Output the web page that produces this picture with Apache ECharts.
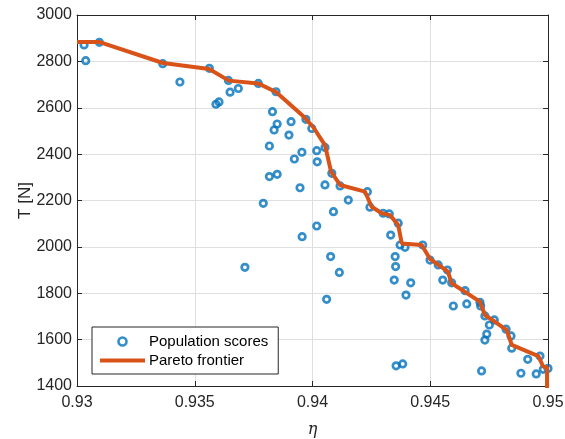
<!DOCTYPE html>
<html><head><meta charset="utf-8">
<script src="https://cdn.jsdelivr.net/npm/echarts@6/dist/echarts.min.js"></script>
<style>html,body{margin:0;padding:0;background:#fff}#c{width:565px;height:439px}</style>
</head><body><div id="c"></div>
<script>
var popX = [0.9303,0.93037,0.93095,0.93364,0.93437,0.93562,0.9359,0.93603,0.93643,0.9365,0.93685,0.9377,0.93845,0.9383,0.9385,0.93837,0.93909,0.939,0.93817,0.93972,0.93997,0.93923,0.93955,0.94018,0.9402,0.94053,0.93817,0.9385,0.93947,0.94082,0.94053,0.94117,0.93791,0.94089,0.94152,0.94018,0.93956,0.94077,0.93713,0.94114,0.9406,0.94233,0.94244,0.943,0.94326,0.94364,0.94332,0.94372,0.94393,0.94468,0.94351,0.94353,0.94347,0.94417,0.94397,0.94499,0.94534,0.94573,0.94553,0.94591,0.94648,0.94598,0.94655,0.94711,0.94714,0.94732,0.94751,0.94772,0.9474,0.94732,0.94822,0.94843,0.94846,0.94914,0.94966,0.94355,0.94383,0.94718,0.94885,0.9495,0.9498,0.95];
var popY = [2871,2803,2882,2790,2711,2770,2615,2625,2718,2667,2683,2705,2669,2583,2530,2504,2540,2482,2435,2550,2511,2379,2408,2415,2367,2429,2303,2313,2255,2317,2267,2263,2188,2152,2202,2090,2044,1958,1912,1890,1774,2238,2171,2145,2142,2102,2051,2008,1998,2008,1958,1915,1857,1845,1792,1943,1922,1900,1857,1845,1811,1745,1754,1761,1745,1702,1663,1685,1624,1598,1645,1616,1563,1515,1529,1487,1495,1465,1455,1452,1472,1476];
var paretoX = [0.9300,0.93093,0.93365,0.93561,0.93645,0.93769,0.93845,0.9396,0.94002,0.94053,0.94079,0.94117,0.94223,0.94251,0.94294,0.94329,0.94364,0.94379,0.94464,0.94499,0.94575,0.94591,0.94711,0.94732,0.94775,0.94825,0.94846,0.94959,0.9498,0.94996,0.94996];
var paretoY = [2884,2884,2793,2767,2717,2705,2668,2564,2518,2439,2324,2267,2238,2173,2145,2137,2094,2015,2008,1948,1893,1843,1764,1706,1677,1641,1577,1529,1483,1482,1380];
var xTicks = ['0.93','0.935','0.94','0.945','0.95'];
var yTicks = ['1400','1600','1800','2000','2200','2400','2600','2800','3000'];

var popData = popX.map(function(x,i){return [x,popY[i]];});
var paretoData = paretoX.map(function(x,i){return [x,paretoY[i]];});
var axCol = '#262626';
var font = 'Liberation Sans, Helvetica, Arial, sans-serif';
var chart = echarts.init(document.getElementById('c'));
chart.setOption({
  backgroundColor: '#fff',
  animation: false,
  textStyle: {fontFamily: font},
  grid: {left: 77, right: 17, top: 15, bottom: 53, containLabel: false, outerBoundsMode: 'none'},
  xAxis: [{
    type: 'value', min: 0.93, max: 0.95, interval: 0.005,
    name: 'η', nameLocation: 'middle', nameGap: 36, nameMoveOverlap: false,
    nameTextStyle: {fontFamily: 'DejaVu Serif', fontStyle: 'italic', fontSize: 16, color: axCol},
    axisLine: {lineStyle: {color: axCol}},
    axisTick: {inside: true, length: 5, lineStyle: {color: axCol}},
    axisLabel: {color: axCol, fontSize: 16, margin: 9, formatter: function(v){ var i=Math.round((v-0.93)/0.005); return xTicks[i]||''; }},
    splitLine: {show: true, lineStyle: {color: '#dfdfdf'}}
  },{
    type: 'value', position: 'top', min: 0.93, max: 0.95, interval: 0.005,
    axisLine: {show: true, lineStyle: {color: axCol}},
    axisTick: {inside: true, length: 5, lineStyle: {color: axCol}},
    axisLabel: {show: false}, splitLine: {show: false}
  }],
  yAxis: [{
    type: 'value', min: 1400, max: 3000, interval: 200,
    name: 'T [N]', nameLocation: 'middle', nameGap: 43, nameRotate: 90, nameMoveOverlap: false,
    nameTextStyle: {fontSize: 17, color: axCol},
    axisLine: {show: true, lineStyle: {color: axCol}},
    axisTick: {show: true, inside: true, length: 5, lineStyle: {color: axCol}},
    axisLabel: {color: axCol, fontSize: 16, margin: 5, formatter: function(v){ var i=Math.round((v-1400)/200); return yTicks[i]||''; }},
    splitLine: {show: true, lineStyle: {color: '#dfdfdf'}}
  },{
    type: 'value', position: 'right', min: 1400, max: 3000, interval: 200,
    axisLine: {show: true, lineStyle: {color: axCol}},
    axisTick: {show: true, inside: true, length: 5, lineStyle: {color: axCol}},
    axisLabel: {show: false}, splitLine: {show: false}
  }],
  legend: {
    orient: 'vertical', left: 92, top: 327,
    padding: [6, 10, 5, 8], itemGap: 2,
    itemWidth: 45, itemHeight: 8,
    backgroundColor: '#fff', borderColor: axCol, borderWidth: 1, borderRadius: 0,
    textStyle: {fontSize: 15, color: '#000', lineHeight: 17, padding: [0,0,0,-1]},
    data: [
      {name: 'Population scores', icon: 'circle', itemStyle: {color: 'rgba(255,255,255,0)', borderColor: '#0072BD', borderWidth: 2.6}},
      {name: 'Pareto frontier', icon: 'path://M0,0L45,0L45,4L0,4Z', itemStyle: {color: '#D95319', borderWidth: 0}}
    ]
  },
  series: [{
    name: 'Population scores', type: 'scatter', data: popData,
    symbol: 'circle', symbolSize: 6.5,
    itemStyle: {color: 'rgba(255,255,255,0)', borderColor: '#0072BD', borderWidth: 2.7}
  },{
    name: 'Pareto frontier', type: 'line', data: paretoData, z: 3,
    showSymbol: false, symbol: 'none', clip: true,
    lineStyle: {color: '#D95319', width: 4},
    itemStyle: {color: '#D95319'}
  }]
});
</script></body></html>
